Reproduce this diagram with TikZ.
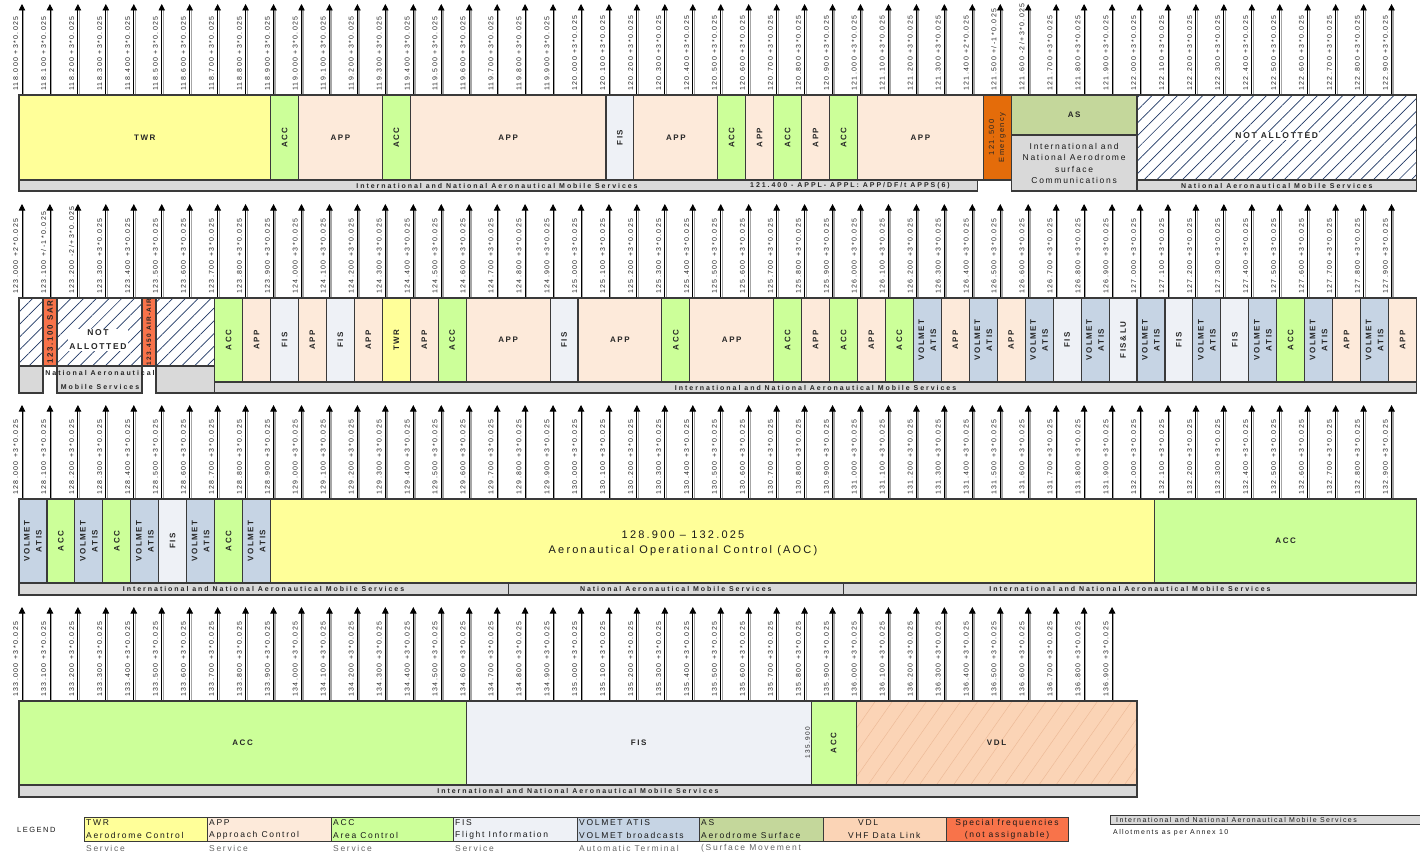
\documentclass[tikz,border=0pt]{standalone}
\usepackage{fontspec}
\setmainfont{Liberation Sans}
\newfontfamily\spaced[LetterSpace=20]{Liberation Sans}
\newfontfamily\wider[LetterSpace=28]{Liberation Sans}
\usetikzlibrary{arrows.meta,patterns.meta}

\definecolor{twrcol}{HTML}{FFFF99}
\definecolor{appcol}{HTML}{FDEADA}
\definecolor{acccol}{HTML}{CCFF99}
\definecolor{fiscol}{HTML}{EEF1F6}
\definecolor{volcol}{HTML}{C6D4E4}
\definecolor{ascol}{HTML}{C4D79B}
\definecolor{vdlcol}{HTML}{FBD4B6}
\definecolor{vdlline}{HTML}{EDBB98}
\definecolor{emgcol}{HTML}{E46C0A}
\definecolor{spccol}{HTML}{F8734A}
\definecolor{barcol}{HTML}{D9D9D9}
\definecolor{hatchcol}{HTML}{1F3864}
\definecolor{edgecol}{HTML}{3A3A3A}

\tikzset{
  blkline/.style={draw=edgecol, line width=1.1pt},
  twr/.style={fill=twrcol},
  app/.style={fill=appcol},
  acc/.style={fill=acccol},
  fis/.style={fill=fiscol},
  vol/.style={fill=volcol},
  asc/.style={fill=ascol},
  emg/.style={fill=emgcol},
  spc/.style={fill=spccol},
  bar/.style={fill=barcol},
  hatched/.style={preaction={fill=white}, pattern={Lines[angle=45,distance=9pt,line width=0.7pt]}, pattern color=hatchcol},
  vdl/.style={preaction={fill=vdlcol}, pattern={Lines[angle=55,distance=14pt,line width=0.5pt]}, pattern color=vdlline},
  blktext/.style={font=\spaced\bfseries\fontsize{8}{12}\selectfont, text=black!85, inner sep=0pt, align=center},
  vtext/.style={blktext, rotate=90},
  smalltext/.style={font=\spaced\fontsize{8.5}{11.5}\selectfont, text=black!90, inner sep=0pt, align=center},
  bartext/.style={font=\wider\bfseries\fontsize{7}{9}\selectfont, text=black!85, inner sep=0pt},
  freqlabel/.style={font=\spaced\fontsize{7}{8}\selectfont, text=black!85, rotate=90, anchor=south west, inner sep=0pt},
  freqarrow/.style={-{Triangle[width=6.5pt,length=6.5pt]}, line width=0.9pt},
  freqshade/.style={draw=black!35, line width=1.4pt},
  legtext/.style={font=\spaced\fontsize{8.5}{9}\selectfont, text=black!90, inner sep=0pt, anchor=west},
}

% grid: one 100 kHz step is 27.95px
\newcommand{\gx}[1]{19+27.95*(#1)}
\newcommand{\blk}[7]{%
  \draw[blkline,#6] ({\gx{#2}},#4) rectangle ({\gx{#3}},#5);
  \node[blktext] (#1) at ({\gx{(#2+#3)/2}},{(#4+#5)/2}) {#7};}
\newcommand{\vblk}[7]{%
  \draw[blkline,#6] ({\gx{#2}},#4) rectangle ({\gx{#3}},#5);
  \node[vtext] (#1) at ({\gx{(#2+#3)/2}},{(#4+#5)/2}) {#7};}
\newcommand{\barbox}[6]{%
  \draw[blkline,bar] ({\gx{#2}},#4) rectangle ({\gx{#3}},#5);
  \node[bartext] (#1) at ({\gx{(#2+#3)/2}},{(#4+#5)/2}) {#6};}
\newcommand{\legbox}[7]{%
  \draw[blkline,line width=0.8pt,#4] (#2,817) rectangle (#3,841);
  \begin{scope}
    \clip (#2,805) rectangle (#3,860);
    \node[legtext] (#1a) at (#2+2,823) {#5};
    \node[legtext] (#1b) at (#2+2,835) {#6};
    \node[legtext,text=black!60] (#1c) at (#2+2,848) {#7};
  \end{scope}}

\begin{document}
\begin{tikzpicture}[x=1pt,y=-1pt]
\useasboundingbox (0,0) rectangle (1420,853);

%frequency arrows with their labels
\foreach \rw/\fbase/\ytip/\ytop/\last in {A/118/4/95/49,B/123/204/298/49,C/128/405/499/49,D/133/607/701/39}{
  \foreach \i in {0,...,\last}{
    \pgfmathtruncatemacro{\mhz}{\fbase+floor(\i/10)}
    \pgfmathtruncatemacro{\khz}{mod(\i,10)}
    \def\sfx{+3*0.025}
    \if\rw A\ifnum\i=34 \def\sfx{+2*0.025}\fi\ifnum\i=35 \def\sfx{+/-1*0.025}\fi\ifnum\i=36 \def\sfx{-2/+3*0.025}\fi\fi
    \if\rw B\ifnum\i=0 \def\sfx{+2*0.025}\fi\ifnum\i=1 \def\sfx{+/-1*0.025}\fi\ifnum\i=2 \def\sfx{-2/+3*0.025}\fi\fi
    \coordinate (b\rw-\i) at ({22+27.95*\i},\ytop);
    \coordinate (t\rw-\i) at ({22+27.95*\i},\ytip+6);
    \draw[freqshade] ([xshift=1.6pt]b\rw-\i) -- ([xshift=1.6pt]t\rw-\i);
    \draw[freqarrow] (b\rw-\i) -- ([yshift=6pt]t\rw-\i);
    \node[freqlabel] (l\rw-\i) at ([xshift=-3.5pt,yshift=4pt]b\rw-\i) {\mhz.\khz00 \sfx};
  }
}

%row 1: 118.000 - 122.975
\blk{twrA}{0}{9}{95}{180}{twr}{TWR}
\vblk{accA1}{9}{10}{95}{180}{acc}{ACC}
\blk{appA1}{10}{13}{95}{180}{app}{APP}
\vblk{accA2}{13}{14}{95}{180}{acc}{ACC}
\blk{appA2}{14}{21}{95}{180}{app}{APP}
\vblk{fisA}{21}{22}{95}{180}{fis}{FIS}
\blk{appA3}{22}{25}{95}{180}{app}{APP}
\vblk{accA3}{25}{26}{95}{180}{acc}{ACC}
\vblk{appA4}{26}{27}{95}{180}{app}{APP}
\vblk{accA4}{27}{28}{95}{180}{acc}{ACC}
\vblk{appA5}{28}{29}{95}{180}{app}{APP}
\vblk{accA5}{29}{30}{95}{180}{acc}{ACC}
\blk{appA6}{30}{34.5}{95}{180}{app}{APP}
\draw[blkline,emg] ({\gx{34.5}},95) rectangle ({\gx{35.5}},180);
\node[vtext,font=\spaced\fontsize{7.5}{10}\selectfont] (emgA) at ({\gx{35}},137.5) {121.500\\Emergency};
\blk{asA}{35.5}{40}{95}{135}{asc}{AS}
\draw[blkline,bar] ({\gx{35.5}},135) rectangle ({\gx{40}},191);
\node[smalltext] (asnoteA) at ({\gx{37.75}},163.5) {International and\\National Aerodrome\\surface\\Communications};
\draw[blkline,hatched] ({\gx{40}},95) rectangle ({\gx{50}},180);
\node[blktext,font=\spaced\bfseries\fontsize{8.5}{12}\selectfont,fill=white,inner sep=1pt] (naA) at ({\gx{45}},136) {NOT ALLOTTED};
\draw[blkline,bar] ({\gx{0}},180) rectangle ({\gx{34.3}},191);
\node[bartext] (barA1) at (497,185.5) {International and National Aeronautical Mobile Services};
\node[bartext] (barA2) at (850,185.5) {121.400 - APPL- APPL: APP/DF/t APPS(6)};
\barbox{barA3}{40}{50}{180}{191}{National Aeronautical Mobile Services}

%row 2: 123.000 - 127.975
\draw[blkline,hatched] ({\gx{0}},298) rectangle ({\gx{0.86}},366);
\vblk{sarB}{0.86}{1.36}{298}{366}{spc}{123.100 SAR}
\draw[blkline,hatched] ({\gx{1.36}},298) rectangle ({\gx{4.4}},366);
\node[blktext,font=\spaced\bfseries\fontsize{8.5}{14}\selectfont,fill=white,inner sep=1pt] (naB) at (98,340) {NOT\\ALLOTTED};
\draw[blkline,spc] ({\gx{4.4}},298) rectangle ({\gx{4.9}},366);
\node[vtext,font=\spaced\bfseries\fontsize{6.5}{8}\selectfont] (airB) at ({\gx{4.65}},332) {123.450 AIR-AIR};
\draw[blkline,hatched] ({\gx{4.9}},298) rectangle ({\gx{7}},366);
\draw[blkline,bar] ({\gx{0}},366) rectangle ({\gx{0.86}},393);
\draw[blkline,bar] ({\gx{1.36}},366) rectangle ({\gx{4.4}},393);
\draw[blkline,bar] ({\gx{4.9}},366) rectangle ({\gx{7}},393);
\node[bartext,align=center,font=\wider\bfseries\fontsize{7}{14}\selectfont] (natB) at (100,380) {National Aeronautical\\Mobile Services};
\foreach \k/\s/\t in {7/acc/ACC,8/app/APP,9/fis/FIS,10/app/APP,11/fis/FIS,12/app/APP,13/twr/TWR,14/app/APP,15/acc/ACC,
  19/fis/FIS,23/acc/ACC,27/acc/ACC,28/app/APP,29/acc/ACC,30/app/APP,31/acc/ACC,32/vol/{VOLMET\\ATIS},33/app/APP,
  34/vol/{VOLMET\\ATIS},35/app/APP,36/vol/{VOLMET\\ATIS},37/fis/FIS,38/vol/{VOLMET\\ATIS},39/fis/FIS\&LU,
  40/vol/{VOLMET\\ATIS},41/fis/FIS,42/vol/{VOLMET\\ATIS},43/fis/FIS,44/vol/{VOLMET\\ATIS},45/acc/ACC,
  46/vol/{VOLMET\\ATIS},47/app/APP,48/vol/{VOLMET\\ATIS},49/app/APP}{
  \vblk{sB\k}{\k}{\k+1}{298}{382}{\s}{\t}
}
\blk{appB1}{16}{19}{298}{382}{app}{APP}
\blk{appB2}{20}{23}{298}{382}{app}{APP}
\blk{appB3}{24}{27}{298}{382}{app}{APP}
\barbox{barB}{7}{50}{382}{393}{International and National Aeronautical Mobile Services}

%row 3: 128.000 - 132.975
\foreach \k/\s/\t in {0/vol/{VOLMET\\ATIS},1/acc/ACC,2/vol/{VOLMET\\ATIS},3/acc/ACC,4/vol/{VOLMET\\ATIS},
  5/fis/FIS,6/vol/{VOLMET\\ATIS},7/acc/ACC,8/vol/{VOLMET\\ATIS}}{
  \vblk{sC\k}{\k}{\k+1}{499}{583}{\s}{\t}
}
\draw[blkline,twr] ({\gx{9}},499) rectangle ({\gx{40.64}},583);
\node[align=center,inner sep=0pt,font=\spaced\fontsize{11}{15}\selectfont,text=black!90] (aocC) at (683,543) {128.900 – 132.025\\Aeronautical Operational Control (AOC)};
\blk{accC}{40.64}{50}{499}{583}{acc}{ACC}
\barbox{barC1}{0}{17.5}{583}{595}{International and National Aeronautical Mobile Services}
\barbox{barC2}{17.5}{29.5}{583}{595}{National Aeronautical Mobile Services}
\barbox{barC3}{29.5}{50}{583}{595}{International and National Aeronautical Mobile Services}

%row 4: 133.000 - 136.975
\blk{accD1}{0}{16}{701}{785}{acc}{ACC}
\blk{fisD}{16}{28.34}{701}{785}{fis}{FIS}
\node[vtext,font=\spaced\fontsize{6.5}{8}\selectfont,anchor=south] (edgeD) at ({\gx{28.34}-1},743) {135.900};
\vblk{accD2}{28.34}{29.95}{701}{785}{acc}{ACC}
\blk{vdlD}{29.95}{40}{701}{785}{vdl}{VDL}
\barbox{barD}{0}{40}{785}{797}{International and National Aeronautical Mobile Services}

%legend
\node[legtext,font=\spaced\fontsize{7.5}{9}\selectfont] (legend) at (17,830) {LEGEND};
\legbox{lgtwr}{84}{207}{twr}{TWR}{Aerodrome Control}{Service}
\legbox{lgapp}{207}{331}{app}{APP}{Approach Control}{Service}
\legbox{lgacc}{331}{453}{acc}{ACC}{Area Control}{Service}
\legbox{lgfis}{453}{577}{fis}{FIS}{Flight Information}{Service}
\legbox{lgvol}{577}{699}{vol}{VOLMET ATIS}{VOLMET broadcasts}{Automatic Terminal}
\legbox{lgas}{699}{823}{asc}{AS}{Aerodrome Surface}{(Surface Movement}
\draw[blkline,line width=0.8pt,fill=vdlcol] (823,817) rectangle (946,841);
\node[legtext] (lgvdla) at (858,823) {VDL};
\node[legtext] (lgvdlb) at (848,835) {VHF Data Link};
\draw[blkline,line width=0.8pt,spc] (946,817) rectangle (1068,841);
\node[legtext,anchor=center] (lgspca) at (1007,823) {Special frequencies};
\node[legtext,anchor=center] (lgspcb) at (1007,835) {(not assignable)};
\draw[blkline,line width=0.8pt,bar] (1110,815) rectangle (1430,824);
\node[legtext,font=\spaced\fontsize{7}{8}\selectfont] (lgbar) at (1116,819.5) {International and National Aeronautical Mobile Services};
\node[legtext,font=\spaced\fontsize{7}{8}\selectfont] (lgannex) at (1113,833) {Allotments as per Annex 10};

\end{tikzpicture}
\end{document}
